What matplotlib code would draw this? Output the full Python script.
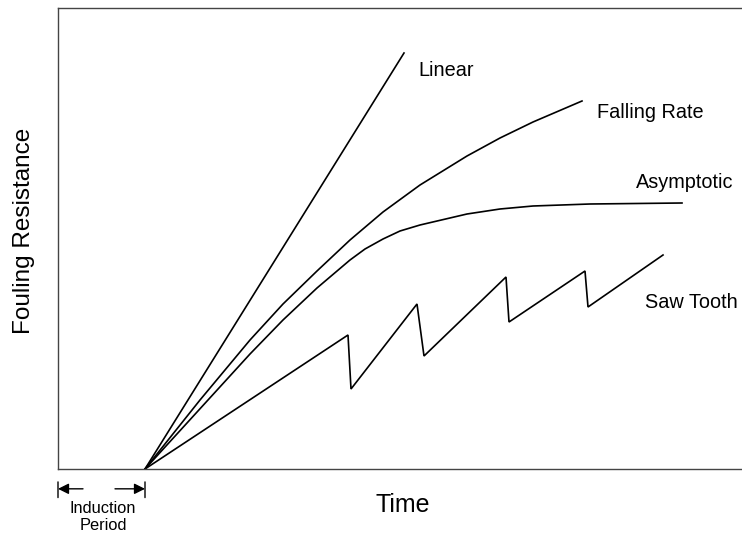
import matplotlib.pyplot as plt

plt.rcParams['font.family'] = ['Liberation Sans', 'DejaVu Sans']

# time after start of induction period, fouling resistance (arbitrary units)
induction_start = -87
induction_end = 0
linear_t = [0, 259]
linear_r = [0, 416]

falling_t = [0, 55, 105, 138, 172, 205, 238, 275, 322, 355, 388, 437]
falling_r = [0, 69, 129, 165, 198, 229, 257, 284, 313, 331, 347, 368]

asym_t = [0, 63, 105, 138, 172, 205, 220, 238, 255, 275, 322, 355, 388, 445, 537]
asym_r = [0, 69, 115, 149, 181, 209, 220, 230, 238, 244, 255, 260, 263, 265, 266]

saw_t = [0, 203, 206, 272, 279, 361, 364, 440, 443, 518]
saw_r = [0, 134, 80, 165, 113, 192, 147, 198, 162, 214]

labels = ['Linear', 'Falling Rate', 'Asymptotic', 'Saw Tooth']
label_t = [273, 452, 491, 500]
label_r = [399, 357, 286, 167]

fig = plt.figure(figsize=(7.42, 5.33), dpi=100)
ax = fig.add_axes([58 / 742, 64 / 533, 684 / 742, 461 / 533])

for t, r in [(linear_t, linear_r), (falling_t, falling_r), (asym_t, asym_r), (saw_t, saw_r)]:
    ax.plot(t, r, color='black', lw=1.2, solid_joinstyle='miter')

for lab, t, r in zip(labels, label_t, label_r):
    ax.text(t, r, lab, fontsize=14.3, va='center', ha='left')

ax.set_xlim(-87, 597)
ax.set_ylim(0, 461)
ax.set_xticks([])
ax.set_yticks([])
for s in ['left', 'bottom', 'top']:
    ax.spines[s].set_color('#444444')
    ax.spines[s].set_linewidth(1.0)
ax.spines['right'].set_visible(False)

fig.text(403 / 742, 1 - 505 / 533, 'Time', fontsize=18, ha='center', va='center')
fig.text(24 / 742, 1 - 231 / 533, 'Fouling Resistance', fontsize=17.5,
         ha='center', va='center', rotation=90)

# induction period marker below the axis
tr = ('data', 'axes fraction')
for x in [induction_start, induction_end]:
    ax.annotate('', xy=(x, -0.022), xytext=(x, -0.068), xycoords=tr, textcoords=tr,
                arrowprops=dict(arrowstyle='-', color='black', lw=1.0), annotation_clip=False)
ax.annotate('', xy=(induction_start, -0.043), xytext=(-62, -0.043), xycoords=tr, textcoords=tr,
            arrowprops=dict(arrowstyle='-|>', color='black', lw=1.0, mutation_scale=16,
                            shrinkA=0, shrinkB=0), annotation_clip=False)
ax.annotate('', xy=(induction_end, -0.043), xytext=(-30, -0.043), xycoords=tr, textcoords=tr,
            arrowprops=dict(arrowstyle='-|>', color='black', lw=1.0, mutation_scale=16,
                            shrinkA=0, shrinkB=0), annotation_clip=False)
fig.text(103 / 742, 1 - 517 / 533, 'Induction\nPeriod', fontsize=11.8,
         ha='center', va='center', linespacing=1.1)

fig.savefig('out.png', dpi=100)
